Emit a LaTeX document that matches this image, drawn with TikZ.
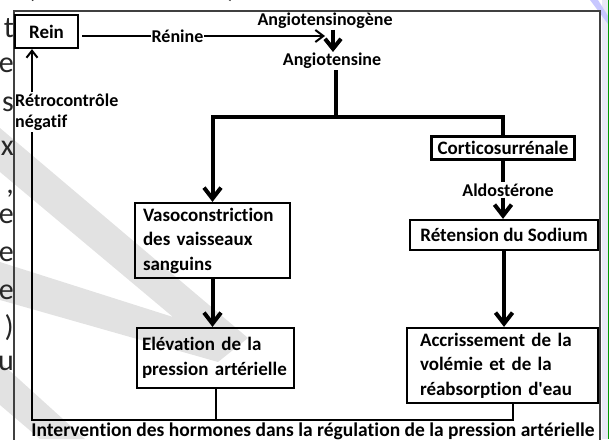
\documentclass[tikz,border=0pt]{standalone}
\usepackage{fontspec}
\setmainfont{Carlito}[Ligatures=NoCommon]
\usetikzlibrary{arrows.meta,positioning}
\definecolor{wmgray}{RGB}{226,226,226}
\definecolor{framegray}{RGB}{64,64,64}
\definecolor{edgelav}{RGB}{232,232,246}
\hyphenpenalty=10000
\exhyphenpenalty=10000

\begin{document}
\begin{tikzpicture}[x=1pt,y=-1pt,>={Straight Barb[length=11pt,width=17pt]},
      box/.style={draw,line width=2.2pt,font=\fontsize{19}{24.5}\selectfont\bfseries,inner sep=0pt,align=left},
      lbl/.style={font=\fontsize{18}{21}\selectfont\bfseries,inner sep=1pt},
      cut/.style={font=\fontsize{30}{30}\selectfont,text=black!85,inner sep=0pt},
      link/.style={line width=4pt},
      fb/.style={line width=2pt},
      wm/.style={fill=wmgray,draw=none}]
    \useasboundingbox (0,0) rectangle (610,439);
    % BACKGROUND: watermark, page edge, cut-off text of the page
    \fill[wm] (0,128) -- (248,338) -- (218,362) -- (0,300) -- (0,262) -- (173,317) -- (0,172) -- cycle;
    \fill[wm] (0,362) -- (85,439) -- (40,439) -- (0,405) -- cycle;
    \fill[edgelav] (602,0) rectangle (608,439);
    \fill[blue!22] (590,0) -- (598,0) -- (608,16) -- (608,24) -- cycle;
    \draw[green!60!black,line width=1pt] (608.5,0) -- (608.5,439);
    \draw[framegray,line width=1.2pt] (14,11) rectangle (600,450);
    \foreach \ch/\y in {t/37,e/72,s/111,x/155,{,}/193,e/223,e/261,e/299,)/336,u/370}
      \node[cut,anchor=base east] (side\y) at (14,\y) {\ch};
    \node[cut,anchor=base] (topL) at (31,-2) {(};
    \node[cut,anchor=base] (topR) at (232,-2) {)};
    % TOP: renin - angiotensin
    \node[box,minimum width=63pt,minimum height=33pt] (rein) at (46.5,31.5) {Rein};
    \node[lbl] (angiogen) at (325,20.5) {Angiotensinogène};
    \node[lbl] (angio) at (332,61) {Angiotensine};
    \coordinate (renEnd) at (325,36);
    \coordinate (split) at (336,117);
    \draw[fb,->,>={Straight Barb[length=8pt,width=12pt]},shorten <=3pt] (rein.east |- renEnd)
       -- node[lbl,pos=0.4,fill=white] (renine) {Rénine} (renEnd);
    \draw[link,->,>={Straight Barb[length=10pt,width=16pt]}] ([xshift=8pt]angiogen.south)
       -- ([xshift=8pt]angiogen.south |- angio.north);
    \draw[link] (angio.south -| split) -- (split);
    % RIGHT: adrenal branch
    \node[box,minimum width=143pt,minimum height=23pt] (cortico) at (503,148) {Corticosurrénale};
    \node[lbl] (aldo) at (508,190) {Aldostérone};
    \node[box,minimum width=188pt,minimum height=30pt] (sodium) at (504,235) {Rétension du Sodium};
    \node[box,inner xsep=13pt,text width=165pt,minimum height=75pt] (accr) at (502.5,365.5)
       {Accrissement~de~la\\volémie~et~de~la\\réabsorption~d\textquotesingle eau};
    % LEFT: vessel branch
    \node[box,inner xsep=8pt,text width=139pt,minimum height=75pt] (vaso) at (212.5,240.5)
       {Vasoconstriction\\des~vaisseaux\\sanguins};
    \node[box,inner xsep=5pt,text width=147pt,minimum height=60pt] (elev) at (215.5,358)
       {Elévation~de~la\\pression~artérielle};
    \draw[link,->] (split) -| (vaso.north);
    \draw[link] (split) -| (cortico.north);
    \draw[link] (cortico.south) -- (cortico.south |- aldo.north);
    \draw[link,->] (aldo.south -| cortico.south) -- (sodium.north -| cortico.south);
    \draw[link,->] (sodium.south) -- (sodium.south |- accr.north);
    \draw[link,->] (vaso.south) -- (vaso.south |- elev.north);
    % FEEDBACK to the kidney
    \node[lbl,align=left,anchor=west] (retro) at (14,112) {Rétrocontrôle\\négatif};
    \coordinate (fbL) at (32,420);
    \draw[fb] (elev.south) -- (elev.south |- fbL);
    \draw[fb] ([xshift=10pt]accr.south) |- (fbL) -- (fbL |- retro.south);
    \draw[fb,->,>={Straight Barb[length=7pt,width=11pt]}] (fbL |- retro.north) -- (fbL |- rein.south);
    \node[font=\fontsize{19.5}{22}\selectfont\bfseries,inner sep=0pt] (title) at (313,431)
       {Intervention des hormones dans la régulation de la pression artérielle};
  \end{tikzpicture}
\end{document}
